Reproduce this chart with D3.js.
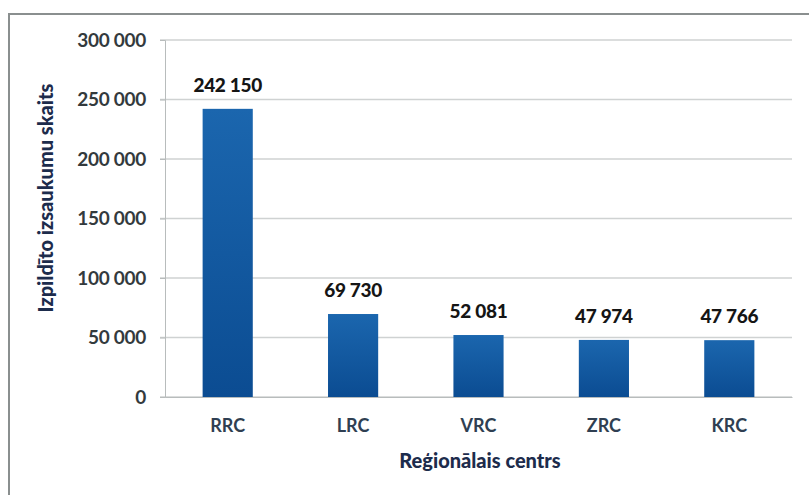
<!DOCTYPE html>
<html>
<head>
<meta charset="utf-8">
<script src="https://cdn.jsdelivr.net/npm/d3@7"></script>
<style>
  body { margin: 0; background: #fff; }
  svg { display: block; }
  svg text { font-family: Lato, "Open Sans", sans-serif; }
</style>
</head>
<body>
<svg id="chart" width="809" height="495"></svg>
<script>
// data
const centers = ["RRC", "LRC", "VRC", "ZRC", "KRC"];
const calls = [242150, 69730, 52081, 47974, 47766];
const yTicks = [0, 50000, 100000, 150000, 200000, 250000, 300000];

const svg = d3.select("#chart");
const margin = { left: 165, right: 17, top: 40, bottom: 98 };
const W = 809, H = 495;

const fmt = v => d3.format(",")(v).replace(/,/g, " ");

const x = d3.scaleBand()
  .domain(centers)
  .range([margin.left, W - margin.right])
  .paddingInner(0.6)
  .paddingOuter(0.3);

const y = d3.scaleLinear()
  .domain([0, 300000])
  .range([H - margin.bottom, margin.top]);

// outer frame
svg.append("rect")
  .attr("x", 9).attr("y", 14)
  .attr("width", 820).attr("height", 500)
  .attr("fill", "none")
  .attr("stroke", "#8a8f8f").attr("stroke-width", 2);

// gradient for bars
const grad = svg.append("defs").append("linearGradient")
  .attr("id", "barGrad")
  .attr("x1", 0).attr("y1", 0).attr("x2", 0).attr("y2", 1);
grad.append("stop").attr("offset", "0%").attr("stop-color", "#1b66ae");
grad.append("stop").attr("offset", "100%").attr("stop-color", "#0b4c92");

// gridlines
svg.append("g")
  .selectAll("line")
  .data(yTicks)
  .join("line")
  .attr("x1", margin.left - 5).attr("x2", W - margin.right)
  .attr("y1", d => y(d)).attr("y2", d => y(d))
  .attr("stroke", "#cfd2d2").attr("stroke-width", 1.3);

// y axis
const yAxis = svg.append("g")
  .attr("transform", `translate(${margin.left},0)`)
  .call(d3.axisLeft(y).tickValues(yTicks).tickFormat(fmt).tickSize(5).tickPadding(14));
yAxis.attr("font-family", null);
yAxis.select(".domain").attr("stroke", "#b8bcbc");
yAxis.selectAll(".tick line").attr("stroke", "#b8bcbc");
yAxis.selectAll(".tick text")
  .attr("font-size", 19).attr("font-weight", 700)
  .attr("fill", "#333a3d").attr("letter-spacing", "-0.3px");

// x axis
const xAxis = svg.append("g")
  .attr("transform", `translate(0,${y(0)})`)
  .call(d3.axisBottom(x).tickSize(0).tickPadding(22));
xAxis.attr("font-family", null);
xAxis.select(".domain").attr("stroke", "#b8bcbc");
xAxis.selectAll(".tick text")
  .attr("font-size", 18).attr("font-weight", 700)
  .attr("fill", "#2f3f52");

// bars
svg.append("g")
  .selectAll("rect")
  .data(centers)
  .join("rect")
  .attr("x", d => x(d))
  .attr("width", x.bandwidth())
  .attr("y", (d, i) => y(calls[i]))
  .attr("height", (d, i) => y(0) - y(calls[i]))
  .attr("fill", "url(#barGrad)");

// value labels
svg.append("g")
  .selectAll("text")
  .data(centers)
  .join("text")
  .attr("x", d => x(d) + x.bandwidth() / 2)
  .attr("y", (d, i) => y(calls[i]) - 17)
  .attr("text-anchor", "middle")
  .attr("font-size", 19).attr("font-weight", 900)
  .attr("fill", "#151515").attr("letter-spacing", "-0.3px")
  .text((d, i) => fmt(calls[i]));

// axis titles
svg.append("text")
  .attr("x", 480)
  .attr("y", 468)
  .attr("text-anchor", "middle")
  .attr("font-size", 20).attr("font-weight", 900)
  .attr("fill", "#1d2c4c")
  .text("Reģionālais centrs");

svg.append("text")
  .attr("transform", `translate(53,198) rotate(-90)`)
  .attr("text-anchor", "middle")
  .attr("font-size", 20).attr("font-weight", 900)
  .attr("fill", "#1d2c4c")
  .text("Izpildīto izsaukumu skaits");
</script>
</body>
</html>
